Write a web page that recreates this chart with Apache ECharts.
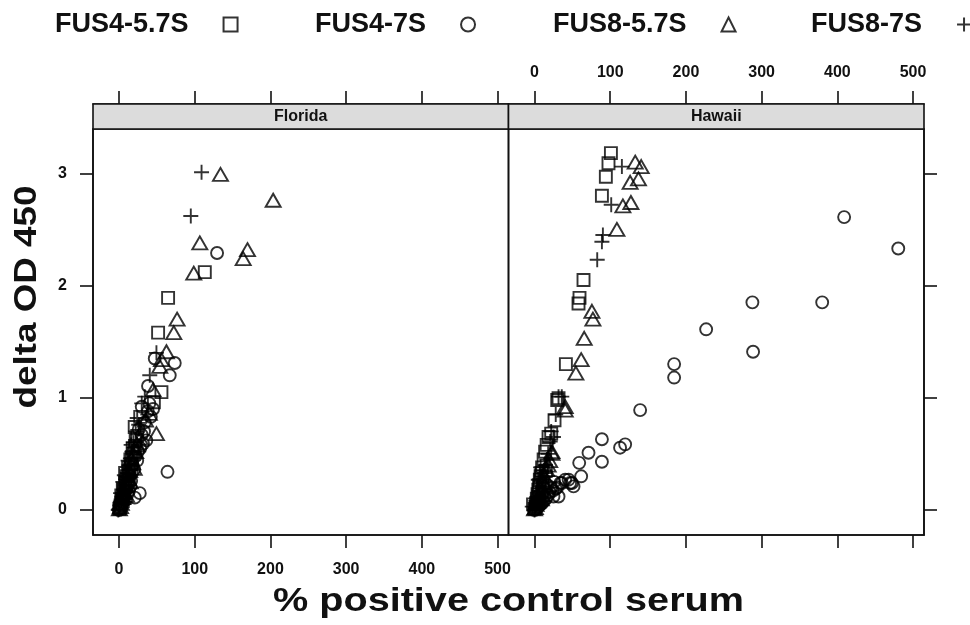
<!DOCTYPE html>
<html>
<head>
<meta charset="utf-8">
<script src="https://cdn.jsdelivr.net/npm/echarts@6/dist/echarts.min.js"></script>
<style>
  html, body { margin: 0; padding: 0; background: #fff; }
  #chart { width: 970px; height: 625px; }
</style>
</head>
<body>
<div id="chart"></div>
<script>
// ---- data ----
const seriesNames = ['FUS4-5.7S', 'FUS4-7S', 'FUS8-5.7S', 'FUS8-7S'];
const panelNames = ['Florida', 'Hawaii'];
const xTicks = [0, 100, 200, 300, 400, 500];
const yTicks = [0, 1, 2, 3];
const xTitle = '% positive control serum';
const yTitle = 'delta OD 450';

// Florida panel, [% positive control serum, delta OD 450]
const floridaSquare = [[113.3,2.12],[64.8,1.89],[51.6,1.58],[56,1.05],[20.7,0.74],[28,0.83],[46,0.96],[22,0.62],[18,0.55],
  [15,0.45],[12,0.38],[16,0.41],[10,0.30],[8,0.24],[11,0.27],[6,0.18],[7,0.15],[4,0.10],[5,0.08],[2,0.04],[1,0.02],
  [3,0.06],[14,0.34],[19,0.50],[24,0.66],[0.5,0.01],[9,0.21],[13,0.31],[17,0.47],[21,0.57],[3,0.13],[5,0.19],[8,0.33]];
const floridaCircle = [[129.5,2.29],[47.2,1.35],[73.6,1.31],[67,1.20],[38.3,1.105],[30,0.92],[45,0.90],[38,0.88],[31.7,0.59],
  [36,0.62],[64,0.34],[27.4,0.15],[20.8,0.11],[26,0.72],[34,0.78],[22,0.48],[25,0.52],[18,0.40],[20,0.36],[14,0.30],
  [12,0.22],[10,0.20],[8,0.16],[6,0.12],[5,0.07],[3,0.04],[1,0.02],[0,0.0],[16,0.26],[28,0.55],[40,0.95],[42,0.83],
  [13,0.17],[17,0.33],[24,0.44],[9,0.09],[11,0.14],[15,0.21],[30,0.67],[33,0.70]];
const floridaTriangle = [[134,2.99],[203.6,2.76],[106.7,2.38],[169.7,2.32],[164,2.24],[98.7,2.11],[76.7,1.70],[72.3,1.58],
  [62.6,1.41],[56,1.34],[53.8,1.28],[45,1.07],[49.4,0.68],[40,0.86],[35,0.80],[28,0.64],[22,0.52],[18,0.42],[14,0.35],
  [12,0.28],[9,0.22],[7,0.16],[5,0.11],[3,0.06],[2,0.03],[0.5,0.01],[16,0.46],[24,0.58],[10,0.13],[15,0.25],[20,0.37]];
const floridaPlus = [[109,3.01],[94.8,2.62],[49.4,1.40],[40.6,1.20],[34,1.01],[30,0.95],[38,0.85],[26,0.76],[22,0.70],
  [19,0.60],[17,0.52],[15,0.46],[13,0.40],[11,0.33],[9,0.27],[8,0.22],[6,0.18],[4,0.12],[3,0.08],[1,0.04],[0,0.01],
  [-1,0.0],[10,0.30],[14,0.36],[20,0.56],[2,0.15],[5,0.25],[7,0.31],[12,0.44],[16,0.58],[24,0.82]];

// Hawaii panel
const hawaiiSquare = [[100.9,3.18],[97.7,3.09],[94.2,2.97],[89,2.80],[64.7,2.05],[59.4,1.89],[58.1,1.84],[41.4,1.30],
  [31.7,0.995],[30,0.98],[26.4,0.80],[18.5,0.65],[14,0.52],[12,0.45],[10,0.38],[9,0.33],[7,0.27],[6,0.22],[5,0.18],
  [4,0.14],[3,0.10],[2,0.06],[1,0.03],[0,0.01],[16,0.58],[22,0.68],[8,0.30],[11,0.24],[15,0.35],[-2,0.05],[6,0.11]];
const hawaiiCircle = [[409,2.61],[480.5,2.33],[287.8,1.85],[380,1.85],[226.7,1.61],[288.7,1.41],[184.4,1.30],[184.4,1.18],
  [139.5,0.89],[89,0.63],[113,0.555],[119.7,0.585],[71.3,0.51],[89,0.43],[59,0.42],[61.6,0.30],[47,0.24],[40.5,0.27],
  [36,0.24],[45,0.27],[49.4,0.24],[51.5,0.21],[34,0.24],[25,0.12],[31.7,0.12],[20,0.16],[15,0.10],[18,0.13],[12,0.08],
  [10,0.06],[8,0.05],[5,0.03],[3,0.02],[1,0.01],[28,0.19],[24,0.17],[22,0.20],[13,0.12],[6,0.04],[0,0.0],
  [17,0.22],[26,0.25],[30,0.20],[11,0.15],[4,0.07]];
const hawaiiTriangle = [[133,3.10],[140.9,3.06],[137.3,2.95],[126.3,2.92],[116.7,2.71],[127.3,2.74],[108.8,2.50],[75.8,1.77],
  [77.1,1.70],[65.6,1.53],[61.6,1.34],[54.6,1.22],[40.5,0.92],[40.5,0.89],[23,0.52],[23,0.505],[20,0.44],[16,0.36],
  [13,0.30],[11,0.25],[8,0.20],[7,0.16],[5,0.12],[3,0.08],[2,0.05],[1,0.02],[0,0.01],[18,0.40],[14,0.22],[9,0.10]];
const hawaiiPlus = [[115.4,3.06],[101.3,2.72],[90.3,2.45],[89,2.39],[82.8,2.23],[36,1.01],[31.7,1.01],[25,0.65],[20.7,0.61],
  [16.3,0.45],[18,0.50],[14,0.40],[12,0.35],[10,0.30],[9,0.26],[7,0.21],[6,0.17],[4,0.12],[3,0.08],[2,0.05],[1,0.02],
  [0,0.0],[22,0.70],[28,0.85],[13,0.33],[-3,0.03],[5,0.27],[8,0.38],[11,0.19]];

const panelData = [
  [floridaSquare, floridaCircle, floridaTriangle, floridaPlus],
  [hawaiiSquare, hawaiiCircle, hawaiiTriangle, hawaiiPlus]
];

// ---- layout / style ----
const FONT = '"Liberation Sans", Arial, sans-serif';
const INK = '#111';
const GRID_TOP = 129, GRID_H = 406, GRID_W = 415.5, STRIP_H = 25;
const gridLefts = [93, 508.5];
const legendLefts = [50, 310, 548, 806];
const symbols = ['rect', 'circle', 'triangle', 'path://M0,7L14,7M7,0L7,14'];
const symbolSizes = [12, 12, [15, 13], 15];

const line = { color: INK, width: 1.6 };
const labelStyle = { color: INK, fontSize: 16, fontWeight: 'bold', fontFamily: FONT };

function xAxis(gridIndex, position, showLabel) {
  return {
    type: 'value', gridIndex, position,
    offset: position === 'top' ? STRIP_H : 0,
    min: -34.4, max: 514.5,
    splitLine: { show: false },
    axisLine: { show: true, onZero: false, lineStyle: line },
    axisTick: { show: true, length: 13, customValues: xTicks, lineStyle: line },
    axisLabel: Object.assign({ show: showLabel, customValues: xTicks, margin: position === 'top' ? 23 : 27 }, labelStyle)
  };
}

function yAxis(gridIndex, position, showLabel) {
  return {
    type: 'value', gridIndex, position,
    min: -0.223, max: 3.395,
    splitLine: { show: false },
    axisLine: { show: true, onZero: false, lineStyle: line },
    axisTick: { show: true, length: 13, customValues: yTicks, lineStyle: line },
    axisLabel: Object.assign({ show: showLabel, customValues: yTicks, margin: 26 }, labelStyle)
  };
}

const series = [];
panelData.forEach((sets, p) => {
  sets.forEach((data, i) => {
    series.push({
      type: 'scatter',
      name: seriesNames[i],
      data,
      xAxisIndex: p * 2,
      yAxisIndex: p,
      symbol: symbols[i],
      symbolSize: symbolSizes[i],
      itemStyle: { color: 'rgba(0,0,0,0)', borderColor: '#000', borderWidth: 1.9 },
      emphasis: { disabled: true },
      silent: true
    });
  });
});

const graphic = [];
panelNames.forEach((name, p) => {
  graphic.push({
    type: 'rect', z: 10,
    shape: { x: gridLefts[p], y: GRID_TOP - STRIP_H, width: GRID_W, height: STRIP_H },
    style: { fill: '#dcdcdc', stroke: INK, lineWidth: 1.6 }
  });
  graphic.push({
    type: 'text', z: 11,
    x: gridLefts[p] + GRID_W / 2, y: GRID_TOP - STRIP_H / 2,
    style: { text: name, fill: INK, font: 'bold 16px ' + FONT, textAlign: 'center', textVerticalAlign: 'middle' }
  });
});
// axis titles are a little wider than tall in the reference, hence the mild stretch
graphic.push({
  type: 'text', x: gridLefts[0] + GRID_W, y: 602, scaleX: 1.2,
  style: { text: xTitle, fill: INK, font: 'bold 33px ' + FONT, textAlign: 'center', textVerticalAlign: 'middle' }
});
graphic.push({
  type: 'text', x: 27, y: 297, rotation: Math.PI / 2, scaleX: 1.15,
  style: { text: yTitle, fill: INK, font: 'bold 32px ' + FONT, textAlign: 'center', textVerticalAlign: 'middle' }
});

const chart = echarts.init(document.getElementById('chart'), null, { renderer: 'canvas' });
chart.setOption({
  backgroundColor: '#fff',
  animation: false,
  textStyle: { fontFamily: FONT },
  legend: seriesNames.map((n, i) => ({
    data: [n],
    left: legendLefts[i], top: 6,
    align: 'right',
    itemWidth: 14, itemHeight: 14,
    selectedMode: false,
    formatter: s => s + '    ',
    textStyle: { color: INK, fontSize: 27, fontWeight: 'bold', fontFamily: FONT }
  })),
  grid: gridLefts.map(left => ({
    left, top: GRID_TOP, width: GRID_W, height: GRID_H,
    show: true, borderColor: INK, borderWidth: 1.6, backgroundColor: 'transparent'
  })),
  xAxis: [
    xAxis(0, 'bottom', true), xAxis(0, 'top', false),
    xAxis(1, 'bottom', false), xAxis(1, 'top', true)
  ],
  yAxis: [yAxis(0, 'left', true), yAxis(1, 'right', false)],
  series,
  graphic
});
window.addEventListener('resize', () => chart.resize());
</script>
</body>
</html>
